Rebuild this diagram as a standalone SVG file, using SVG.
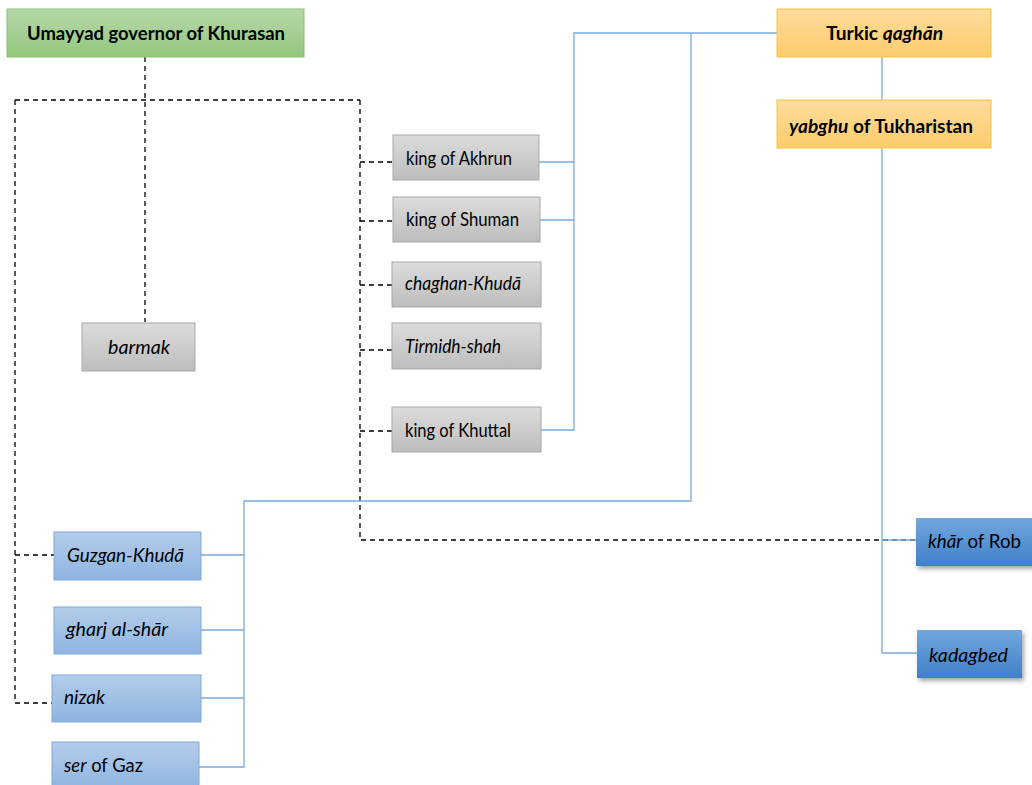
<svg xmlns="http://www.w3.org/2000/svg" width="1032" height="785" viewBox="0 0 1032 785">
<defs>
<linearGradient id="gGreen" x1="0" y1="0" x2="0" y2="1"><stop offset="0" stop-color="#b7d8a9"/><stop offset="1" stop-color="#92c77d"/></linearGradient>
<linearGradient id="gGold" x1="0" y1="0" x2="0" y2="1"><stop offset="0" stop-color="#fedc9c"/><stop offset="1" stop-color="#fdcd6d"/></linearGradient>
<linearGradient id="gGray" x1="0" y1="0" x2="0" y2="1"><stop offset="0" stop-color="#dcdcdc"/><stop offset="1" stop-color="#bdbdbd"/></linearGradient>
<linearGradient id="gLBlue" x1="0" y1="0" x2="0" y2="1"><stop offset="0" stop-color="#b3cdea"/><stop offset="1" stop-color="#8fb4e1"/></linearGradient>
<linearGradient id="gDBlue" x1="0" y1="0" x2="0" y2="1"><stop offset="0" stop-color="#72a6de"/><stop offset="1" stop-color="#3f80c8"/></linearGradient>
<filter id="sh" x="-10%" y="-10%" width="130%" height="140%"><feDropShadow dx="2" dy="3" stdDeviation="2" flood-color="#000" flood-opacity="0.35"/></filter>
</defs>
<style>
text{font-family:Lato,"Liberation Sans",sans-serif;font-size:19.5px;fill:#000}
.b{font-weight:bold}
.i{font-style:italic}
.green{fill:url(#gGreen);stroke:#8cbf70;stroke-width:1}
.gold{fill:url(#gGold);stroke:#f6c342;stroke-width:1}
.gray{fill:url(#gGray);stroke:#a8a8a8;stroke-width:1}
.lblue{fill:url(#gLBlue);stroke:#7ea8db;stroke-width:1}
.dblue{fill:url(#gDBlue);stroke:none;filter:url(#sh)}
.dash{fill:none;stroke:#000;stroke-width:1.3;stroke-dasharray:5,4}
.blue{fill:none;stroke:#7aa9dd;stroke-width:1.3}
</style>
<rect width="1032" height="785" fill="#fff"/>
<g id="connectors">
<path class="dash" d="M145,57 V322 M15,100 H360 M15,100 V703 H52 M15,555 H54 M360,100 V540 H916 M360,162 H393 M360,221 H393 M360,285 H392 M360,350 H392 M360,431 H392"/>
<path class="blue" d="M777,33 H574 V430 H541 M539,162 H574 M540,220 H574 M691,33 V501 H244 V767 H199 M201,555 H244 M201,630 H244 M201,698 H244 M882,57 V100 M882,148 V653 H917 M882,540 H916"/>
</g>
<g id="n-umayyad"><rect class="green" x="7" y="9" width="297" height="48"/><text class="b" x="27" y="40" textLength="258" lengthAdjust="spacingAndGlyphs">Umayyad governor of Khurasan</text></g>
<g id="n-qaghan"><rect class="gold" x="777" y="9" width="214" height="48"/><text class="b" x="826" y="40" textLength="117" lengthAdjust="spacingAndGlyphs">Turkic <tspan class="i">qaghān</tspan></text></g>
<g id="n-yabghu"><rect class="gold" x="777" y="100" width="214" height="48"/><text class="b" x="789" y="133" textLength="184" lengthAdjust="spacingAndGlyphs"><tspan class="i">yabghu</tspan> of Tukharistan</text></g>
<g id="n-akhrun"><rect class="gray" x="393" y="135" width="146" height="45"/><text x="406" y="165" textLength="106" lengthAdjust="spacingAndGlyphs">king of Akhrun</text></g>
<g id="n-shuman"><rect class="gray" x="393" y="197" width="147" height="45"/><text x="406" y="226" textLength="113" lengthAdjust="spacingAndGlyphs">king of Shuman</text></g>
<g id="n-chaghan"><rect class="gray" x="392" y="262" width="149" height="45"/><text class="i" x="405" y="290" textLength="116" lengthAdjust="spacingAndGlyphs">chaghan-Khudā</text></g>
<g id="n-tirmidh"><rect class="gray" x="392" y="323" width="149" height="46"/><text class="i" x="405" y="353" textLength="96" lengthAdjust="spacingAndGlyphs">Tirmidh-shah</text></g>
<g id="n-khuttal"><rect class="gray" x="392" y="407" width="149" height="45"/><text x="405" y="437" textLength="106" lengthAdjust="spacingAndGlyphs">king of Khuttal</text></g>
<g id="n-barmak"><rect class="gray" x="82" y="323" width="113" height="48"/><text class="i" x="108" y="354" textLength="62" lengthAdjust="spacingAndGlyphs">barmak</text></g>
<g id="n-guzgan"><rect class="lblue" x="54" y="532" width="147" height="48"/><text class="i" x="67" y="562" textLength="117" lengthAdjust="spacingAndGlyphs">Guzgan-Khudā</text></g>
<g id="n-gharj"><rect class="lblue" x="54" y="607" width="147" height="47"/><text class="i" x="66" y="636" textLength="102" lengthAdjust="spacingAndGlyphs">gharj al-shār</text></g>
<g id="n-nizak"><rect class="lblue" x="52" y="675" width="149" height="47"/><text class="i" x="64" y="704" textLength="41" lengthAdjust="spacingAndGlyphs">nizak</text></g>
<g id="n-ser"><rect class="lblue" x="52" y="742" width="147" height="48"/><text x="64" y="772" textLength="79" lengthAdjust="spacingAndGlyphs"><tspan class="i">ser</tspan> of Gaz</text></g>
<g id="n-khar"><rect class="dblue" x="916" y="518" width="120" height="48"/><text x="928" y="548" textLength="93" lengthAdjust="spacingAndGlyphs"><tspan class="i">khār</tspan> of Rob</text></g>
<g id="n-kadagbed"><rect class="dblue" x="917" y="630" width="105" height="48"/><text class="i" x="929" y="662" textLength="79" lengthAdjust="spacingAndGlyphs">kadagbed</text></g>
</svg>
